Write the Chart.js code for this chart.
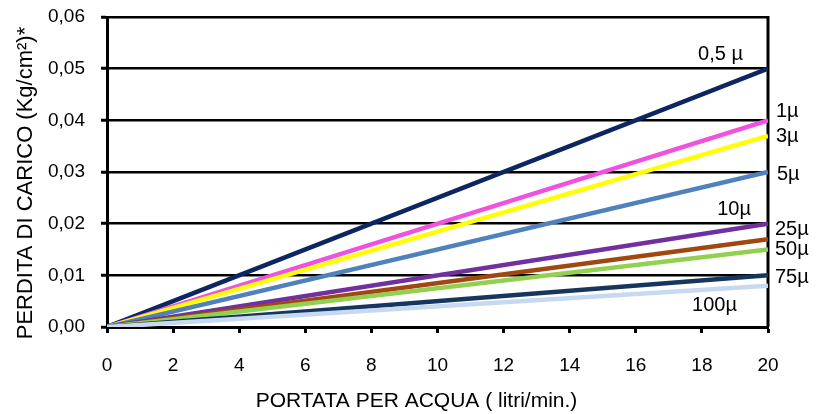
<!DOCTYPE html>
<html>
<head>
<meta charset="utf-8">
<script src="https://cdn.jsdelivr.net/npm/chart.js@4.4.0/dist/chart.umd.min.js"></script>
<style>
  html, body { margin: 0; padding: 0; background: #fff; }
  #wrap { width: 825px; height: 414px; }
</style>
</head>
<body>
<div id="wrap"><canvas id="line-chart" width="825" height="414"></canvas></div>
<script>
// portata (litri/min.) - start and end of each line
var flowRates = [0, 20];
var xTicks = [0, 2, 4, 6, 8, 10, 12, 14, 16, 18, 20];

// filtration grades
var grades = ["0,5 µ", "1µ", "3µ", "5µ", "10µ", "25µ", "50µ", "75µ", "100µ"];

// perdita di carico (Kg/cm²) at each flow rate
var loss05 = [0, 0.050];
var loss1 = [0, 0.040];
var loss3 = [0, 0.037];
var loss5 = [0, 0.030];
var loss10 = [0, 0.020];
var loss25 = [0, 0.017];
var loss50 = [0, 0.015];
var loss75 = [0, 0.010];
var loss100 = [0, 0.008];

var seriesValues = [loss05, loss1, loss3, loss5, loss10, loss25, loss50, loss75, loss100];
var seriesColors = ['#0b2660', '#f052e0', '#ffff00', '#4f81bd', '#7030a0',
    '#a0480f', '#92d050', '#17365d', '#c6d9f1'];

// where each grade label sits relative to the end of its line (px)
var labelOffsets = [
    {dx: -25, dy: -14, align: 'right'},
    {dx: 8, dy: -9, align: 'left'},
    {dx: 8, dy: 1, align: 'left'},
    {dx: 9, dy: 2, align: 'left'},
    {dx: -17, dy: -14, align: 'right'},
    {dx: 7, dy: -10, align: 'left'},
    {dx: 7, dy: 0, align: 'left'},
    {dx: 7, dy: 2, align: 'left'},
    {dx: -31, dy: 20, align: 'right'}
];

var datasets = seriesValues.map(function (vals, i) {
    return {
        label: grades[i],
        data: flowRates.map(function (x, j) { return {x: x, y: vals[j]}; }),
        borderColor: seriesColors[i],
        backgroundColor: seriesColors[i],
        borderWidth: 4.5,
        pointRadius: 0,
        fill: false,
        tension: 0
    };
});
// draw the darker lines on top like the original
datasets.reverse();

var gradeLabels = {
    id: 'gradeLabels',
    afterDatasetsDraw: function (chart) {
        var c = chart.ctx;
        var xs = chart.scales.x, ys = chart.scales.y;
        c.save();
        c.font = '20px "Liberation Sans", Arial, sans-serif';
        c.fillStyle = '#000';
        c.textBaseline = 'middle';
        seriesValues.forEach(function (vals, i) {
            var last = vals.length - 1;
            var px = xs.getPixelForValue(flowRates[last]);
            var py = ys.getPixelForValue(vals[last]);
            var o = labelOffsets[i];
            c.textAlign = o.align;
            c.fillText(grades[i], px + o.dx, py + o.dy);
        });
        c.restore();
    }
};

var frame = {
    id: 'frame',
    beforeDatasetsDraw: function (chart) {
        var a = chart.chartArea, c = chart.ctx;
        c.save();
        c.strokeStyle = '#000';
        c.lineWidth = 3;
        c.beginPath();
        c.moveTo(a.right, a.top - 1);
        c.lineTo(a.right, a.bottom);
        c.stroke();
        c.restore();
    }
};

Chart.defaults.font.family = '"Liberation Sans", Arial, sans-serif';
Chart.defaults.color = '#000';

var ctx = document.getElementById("line-chart");
var lineChart = new Chart(ctx, {
    type: 'line',
    data: {datasets: datasets},
    options: {
        responsive: false,
        animation: false,
        layout: {padding: {top: 17, right: 57, left: 0, bottom: 0}},
        plugins: {
            legend: {display: false},
            tooltip: {enabled: false}
        },
        scales: {
            x: {
                type: 'linear',
                min: 0,
                max: 20,
                afterBuildTicks: function (scale) {
                    scale.ticks = xTicks.map(function (v) { return {value: v}; });
                },
                afterFit: function (scale) {
                    scale.height = 87;
                    scale.paddingLeft = 0;
                    scale.paddingRight = 0;
                },
                border: {display: true, color: '#000', width: 3},
                grid: {
                    drawOnChartArea: false,
                    tickLength: 6,
                    tickColor: '#000',
                    tickWidth: 3
                },
                ticks: {font: {size: 19}, padding: 21, maxRotation: 0},
                title: {
                    display: true,
                    text: 'PORTATA PER ACQUA ( litri/min.)\u2003\u2003',
                    font: {size: 21},
                    padding: {top: 0, bottom: 0}
                }
            },
            y: {
                min: 0,
                max: 0.06,
                afterFit: function (scale) {
                    scale.width = 107;
                    scale.paddingTop = 0;
                    scale.paddingBottom = 0;
                },
                border: {display: true, color: '#000', width: 3},
                grid: {
                    color: '#000',
                    lineWidth: 2.5,
                    tickLength: 6,
                    tickColor: '#000',
                    tickWidth: 3
                },
                ticks: {
                    stepSize: 0.01,
                    font: {size: 19},
                    padding: 16,
                    callback: function (v) { return v.toFixed(2).replace('.', ','); }
                },
                title: {
                    display: true,
                    text: 'PERDITA DI CARICO (Kg/cm²)*\u2003',
                    font: {size: 22},
                    padding: {top: 13, bottom: 0}
                }
            }
        }
    },
    plugins: [frame, gradeLabels]
});
</script>
</body>
</html>
